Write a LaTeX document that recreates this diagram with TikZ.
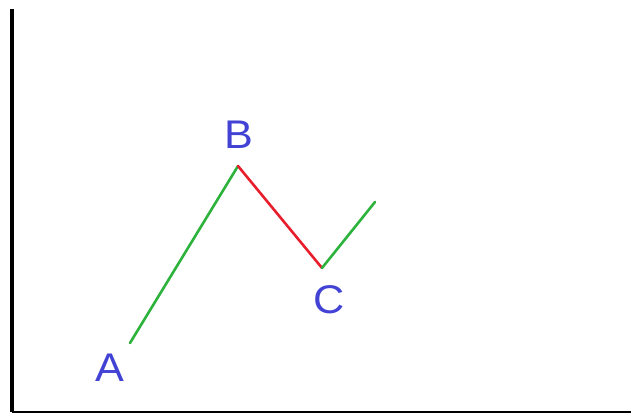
\documentclass[tikz,border=0pt]{standalone}
\usepackage{fontspec}
\setmainfont{Liberation Sans}
\usepackage{tikz}
\usetikzlibrary{positioning}
\definecolor{wavegreen}{RGB}{45,178,60}
\definecolor{wavered}{RGB}{232,30,45}
\definecolor{labelblue}{RGB}{66,66,212}
\tikzset{
  leg/.style={line width=2.6pt, line cap=round},
  ptlabel/.style={font=\fontsize{40}{40}\selectfont, text=labelblue, inner sep=0pt, xscale=1.08}
}
\begin{document}
\begin{tikzpicture}[x=1pt, y=1pt]
  \useasboundingbox (0,0) rectangle (631,414);
  % axes
  \coordinate (top) at (12,405);
  \coordinate (origin) at (12,2);
  \coordinate (right) at (631,2);
  \draw[line width=4pt] (top) -- (origin);
  \draw[line width=1.6pt] (origin) -- (right);
  % wave points
  \coordinate (pA) at (130,71);
  \coordinate (pB) at (238,248);
  \coordinate (pC) at (322,146);
  \coordinate (pD) at (375,212);
  \draw[leg, wavegreen] (pA) -- (pB);
  \draw[leg, wavered] (pB) -- (pC);
  \draw[leg, wavegreen] (pC) -- (pD);
  % labels
  \node[ptlabel] (A) at (110,46.5) {A};
  \node[ptlabel] (B) at (239,279) {B};
  \node[ptlabel] (C) at (329,114.5) {C};
\end{tikzpicture}
\end{document}
